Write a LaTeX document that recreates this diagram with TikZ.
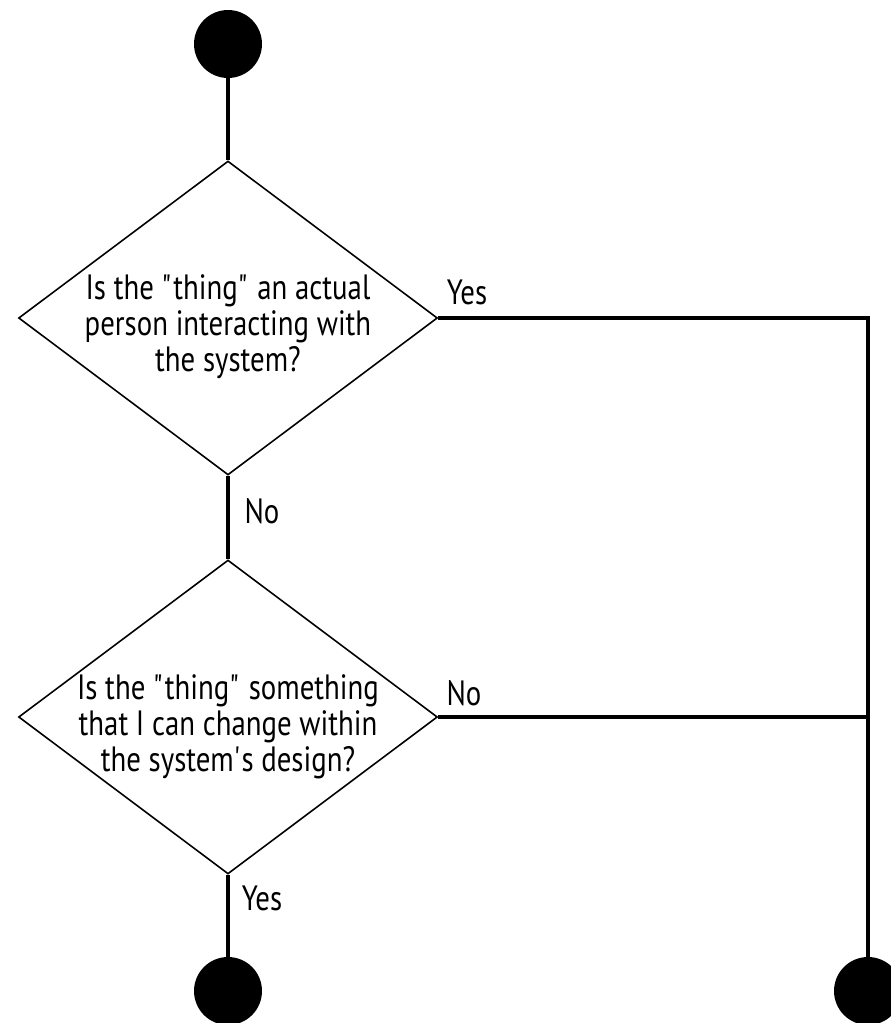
\documentclass[tikz,border=0pt]{standalone}
\usepackage{fontspec}
\setmainfont{PT Sans}[FakeStretch=0.82]
\usetikzlibrary{shapes.geometric,positioning}

\tikzset{
  endpoint/.style={circle, fill=black, minimum size=1.36cm, inner sep=0pt},
  decision/.style={diamond, draw, line width=0.9pt, minimum width=8.38cm,
                   minimum height=6.28cm, inner sep=0pt},
  question/.style={align=center, inner sep=0pt, font=\fontsize{20}{20.5}\selectfont},
  flow/.style={line width=2pt},
  answer/.style={inner sep=0pt, font=\fontsize{20}{24}\selectfont},
}

\begin{document}
\begin{tikzpicture}[x=0.02cm,y=-0.02cm]
      \useasboundingbox (0,0) rectangle (891,1023);

      \node[endpoint] at (228,44) (start) {};

      \node[decision, label={[question,yshift=-0.18cm]center:{Is the \textquotedbl thing\textquotedbl{} an actual\\person interacting with\\the system?}}]
        at (228,318) (q1) {};
      \node[decision, label={[question,yshift=-0.2cm]center:{Is the \textquotedbl thing\textquotedbl{} something\\that I can change within\\the system\textquotesingle s design?}}]
        at (228,717) (q2) {};

      \node[endpoint] at (228,991) (endl) {};
      \node[endpoint] at (868,991) (endr) {};

      \coordinate (c1) at (868,318);
      \coordinate (c2) at (868,717);

      \draw[flow] (start)--(q1.north);
      \draw[flow] (q1.south)--(q2.north);
      \draw[flow] (q2.south)--(endl);
      \draw[flow] (q1.east)--(c1)--(endr);
      \draw[flow] (q2.east)--(c2);

      \node[answer] at (467,292) (yes1) {Yes};
      \node[answer] at (262,511) (no1) {No};
      \node[answer] at (464,693) (no2) {No};
      \node[answer] at (262,898) (yes2) {Yes};
\end{tikzpicture}
\end{document}
